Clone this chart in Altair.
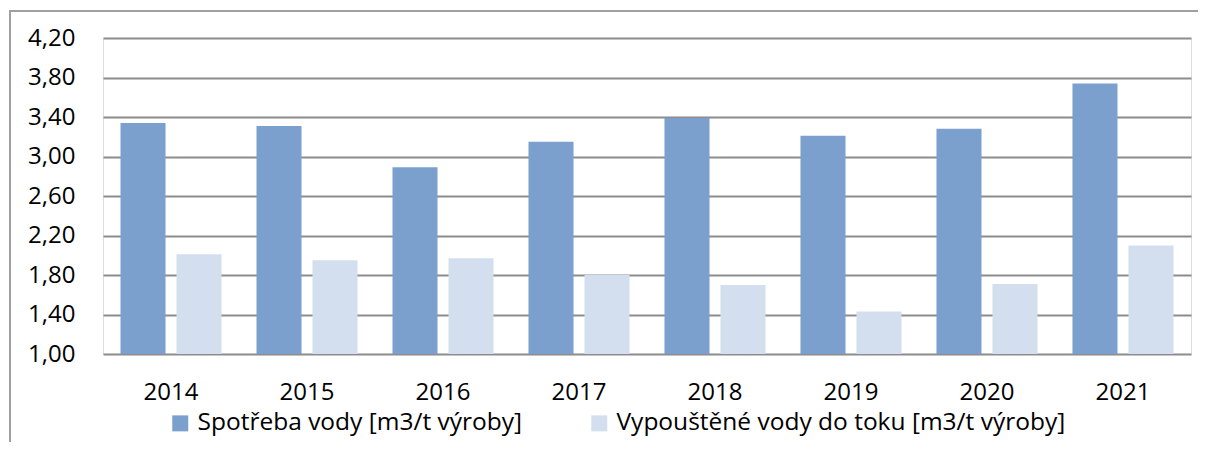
import altair as alt
import pandas as pd

years = ["2014", "2015", "2016", "2017", "2018", "2019", "2020", "2021"]
spotreba = [3.34, 3.31, 2.89, 3.15, 3.39, 3.21, 3.28, 3.74]
vypoustene = [2.01, 1.95, 1.97, 1.80, 1.70, 1.43, 1.71, 2.10]
series_names = ["Spotřeba vody [m3/t výroby]", "Vypouštěné vody do toku [m3/t výroby]"]
y_ticks = [1.0, 1.4, 1.8, 2.2, 2.6, 3.0, 3.4, 3.8, 4.2]
colors = ["#7BA0CD", "#D3DFEE"]

rows = []
for i, y in enumerate(years):
    rows.append({"rok": y, "serie": series_names[0], "hodnota": spotreba[i]})
    rows.append({"rok": y, "serie": series_names[1], "hodnota": vypoustene[i]})
df = pd.DataFrame(rows)

FONT = "Open Sans"

bars = alt.Chart(df).mark_bar(clip=False).encode(
    x=alt.X("rok:N", sort=years, title=None,
            scale=alt.Scale(paddingInner=0.257, paddingOuter=0.1287),
            axis=alt.Axis(labelAngle=0, ticks=False, domain=False, labelPadding=26,
                          labelFontSize=24, labelFont=FONT, labelColor="#000000")),
    xOffset=alt.XOffset("serie:N", sort=series_names,
                        scale=alt.Scale(paddingInner=0.196, paddingOuter=0)),
    y=alt.Y("hodnota:Q", title=None,
            scale=alt.Scale(domain=[1.0, 4.2], zero=False, nice=False),
            axis=alt.Axis(values=y_ticks, ticks=False, tickSize=0, domain=False,
                          labelPadding=28, labelFontSize=24, labelFont=FONT,
                          labelColor="#000000",
                          labelExpr="replace(format(datum.value, '.2f'), '.', ',')",
                          grid=True, gridColor="#8C8C8C", gridWidth=2)),
    y2=alt.datum(1.0),
    color=alt.Color("serie:N", sort=series_names,
                    scale=alt.Scale(domain=series_names, range=colors),
                    legend=alt.Legend(title=None, orient="none", direction="horizontal",
                                      legendX=65, legendY=373,
                                      symbolType="square", symbolSize=256,
                                      symbolStrokeWidth=0, labelFontSize=24.5,
                                      labelFont=FONT, labelColor="#000000",
                                      labelOffset=5, columnPadding=64,
                                      labelLimit=700)),
)

frame_top = alt.Chart(pd.DataFrame({"a": [0]})).mark_rule(
    color="#A0A0A0", strokeWidth=2, clip=False, strokeCap="butt"
).encode(x=alt.value(-94), x2=alt.value(1095), y=alt.value(-27))

frame_left = alt.Chart(pd.DataFrame({"a": [0]})).mark_rule(
    color="#A0A0A0", strokeWidth=2, clip=False, strokeCap="butt"
).encode(x=alt.value(-93), y=alt.value(-28), y2=alt.value(420))

chart = alt.layer(frame_top, frame_left, bars).properties(
    width=1088, height=316,
    autosize=alt.AutoSizeParams(type="none"),
    padding={"left": 95, "top": 30, "right": 7, "bottom": 88},
).configure_view(stroke=None).configure(background="#FFFFFF")

chart.save("out.html", embed_options={"renderer": "svg", "actions": False})
